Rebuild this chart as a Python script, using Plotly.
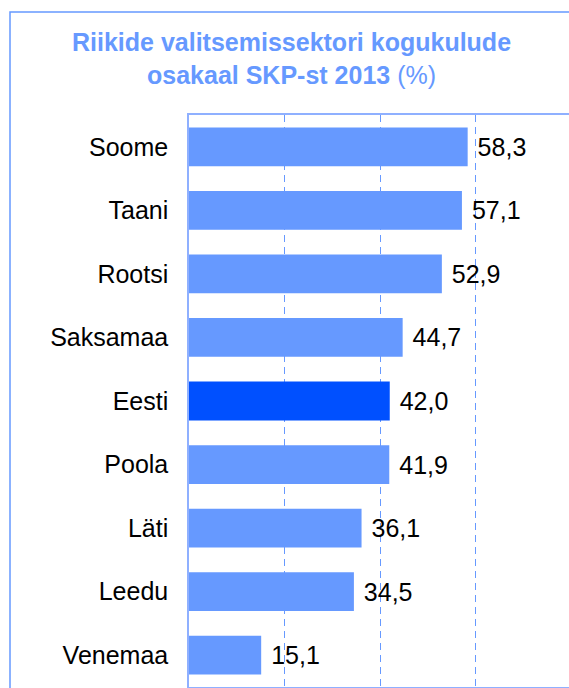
import plotly.graph_objects as go

countries = ["Soome", "Taani", "Rootsi", "Saksamaa", "Eesti", "Poola", "Läti", "Leedu", "Venemaa"]
values = [58.3, 57.1, 52.9, 44.7, 42.0, 41.9, 36.1, 34.5, 15.1]
highlight = "Eesti"

light = "#6699FF"
dark = "#0050FF"
colors = [dark if c == highlight else light for c in countries]
texts = [" " + f"{v:.1f}".replace(".", ",") for v in values]

FONT = "Liberation Sans, Arial, sans-serif"

fig = go.Figure(go.Bar(
    x=values, y=countries, orientation="h",
    marker=dict(color=colors, line=dict(width=0)),
    text=texts, textposition="outside",
    textfont=dict(family=FONT, size=25, color="black"),
    cliponaxis=False,
    hoverinfo="skip",
))

W, H = 569, 688
L, R, T, B = 189, 0, 115, 1
pw, ph = W - L - R, H - T - B

def px_x(x):
    return (x - L) / pw

def px_y(y):
    return 1 - (y - T) / ph

fig.update_layout(
    width=W, height=H,
    margin=dict(l=L, r=R, t=T, b=B),
    paper_bgcolor="white", plot_bgcolor="white",
    bargap=0.39,
    showlegend=False,
    font=dict(family=FONT, color="black"),
    xaxis=dict(
        range=[0, 79.5], tickvals=[20, 40, 60], showticklabels=False,
        showgrid=True, gridcolor=light, griddash="7px,5px", gridwidth=1,
        zeroline=False, showline=True, mirror=True, linecolor="#8FB0FF", linewidth=1.5,
        ticks="",
    ),
    yaxis=dict(
        autorange="reversed", showgrid=False, zeroline=False,
        showline=True, linecolor="#8FB0FF", linewidth=1.5,
        tickfont=dict(family=FONT, size=25, color="black"),
        ticks="", ticklabelstandoff=14,
    ),
    shapes=[dict(
        type="path", xref="paper", yref="paper",
        path=f"M {px_x(10)},{px_y(700)} L {px_x(10)},{px_y(12)} L {px_x(600)},{px_y(12)}",
        line=dict(color=light, width=1.5),
    )],
    annotations=[dict(
        xref="paper", yref="paper", x=px_x(291), y=px_y(58),
        xanchor="center", yanchor="middle", showarrow=False,
        text="<b>Riikide valitsemissektori kogukulude<br>osakaal SKP-st 2013</b> (%)",
        font=dict(family=FONT, size=25, color=light),
        align="center",
    )],
)

fig.write_html(
    "out.html",
    config={"displayModeBar": False},
    post_script="document.body.style.margin='0px';document.body.style.overflow='hidden';",
)
